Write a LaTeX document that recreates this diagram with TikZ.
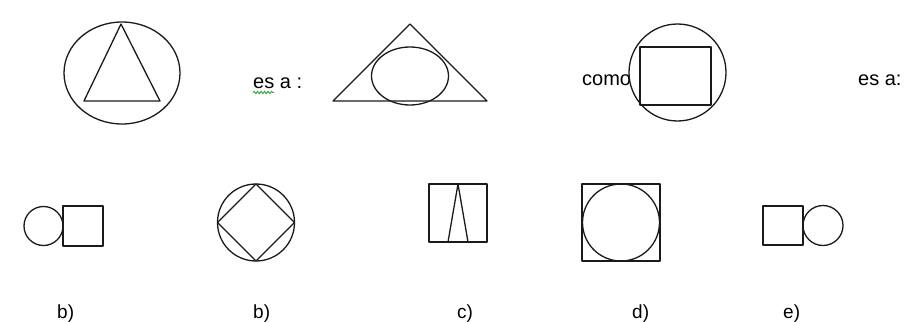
\documentclass[tikz,border=0pt]{standalone}
\usepackage{fontspec}
\setmainfont{Liberation Sans}
\usetikzlibrary{decorations.pathmorphing}
\definecolor{ink}{HTML}{1A1A1A}
\definecolor{spellgreen}{HTML}{3CA03C}
\tikzset{
  fig/.style={draw=ink,line width=1.3pt,line join=round},
  word/.style={font=\fontsize{20}{23}\selectfont,inner sep=0pt,anchor=base west},
  tag/.style={font=\fontsize{19}{22}\selectfont,inner sep=0pt,anchor=base west},
  wavy/.style={draw=spellgreen,line width=0.9pt,decorate,
               decoration={snake,amplitude=1.2pt,segment length=3.5pt}}
}

\begin{document}
\begin{tikzpicture}[x=1pt,y=-1pt]
    \path[use as bounding box] (0,0) rectangle (904,321);
    % top row
    \draw[fig] (122,73) ellipse [x radius=58,y radius=51];
    \draw[fig] (121,24) -- (84,101) -- (160,101) -- cycle;
    \node[word] (esa) at (253,88) {es a :};
    \draw[wavy] (253,92.5) -- (274,92.5);
    \draw[fig] (410,24) -- (333,101) -- (487,101) -- cycle;
    \draw[fig] (410,76) ellipse [x radius=38.5,y radius=29];
    \node[word] (como) at (582,85) {como};
    \draw[fig,fill=white] (677.5,72.5) circle [radius=48.5];
    \draw[fig] (640,47) rectangle (711,105);
    \node[word] (esb) at (858,85) {es a:};
    % bottom row
    \draw[fig] (43.5,226) circle [radius=19.5];
    \draw[fig] (63,206) rectangle (103,246);
    \draw[fig] (256,222.5) circle [radius=38.5];
    \draw[fig] (256,184) -- (294.5,222.5) -- (256,261) -- (217.5,222.5) -- cycle;
    \draw[fig] (429,184) rectangle (487,242);
    \draw[fig] (458,184) -- (448,242) -- (468,242) -- cycle;
    \draw[fig] (582,184) rectangle (660,261);
    \draw[fig] (621,222.5) circle [radius=38.5];
    \draw[fig] (763,206) rectangle (803,245);
    \draw[fig] (823,225.5) circle [radius=20];
    % answer tags
    \node[tag] (ta) at (57,318) {b)};
    \node[tag] (tb) at (253,318) {b)};
    \node[tag] (tc) at (457,318) {c)};
    \node[tag] (td) at (632,318) {d)};
    \node[tag] (te) at (783,318) {e)};
\end{tikzpicture}
\end{document}
